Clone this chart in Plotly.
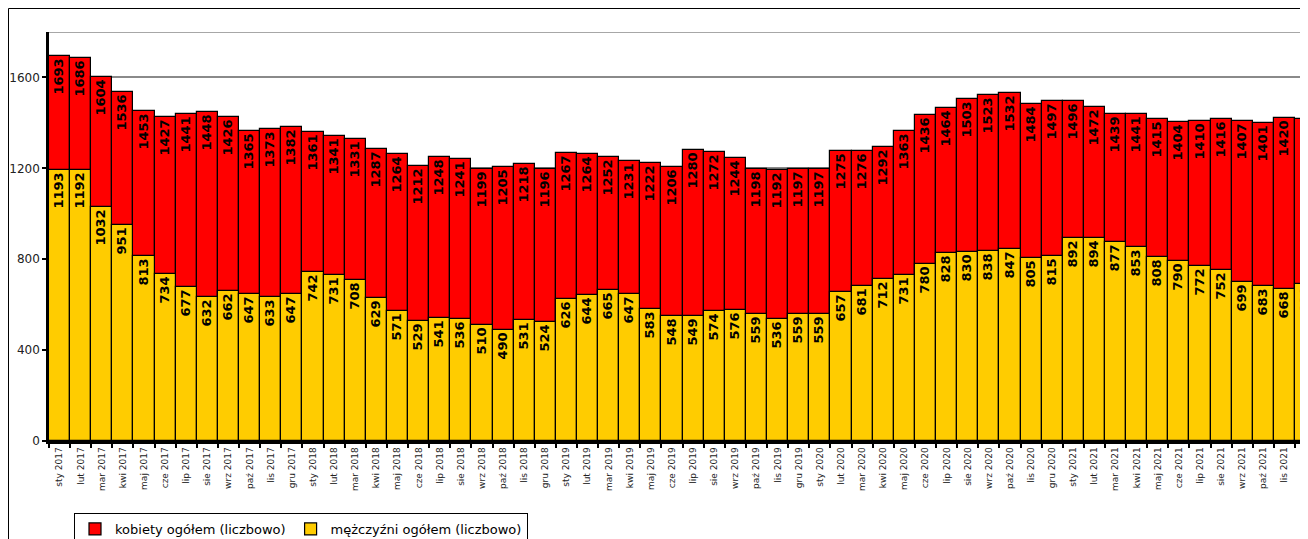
import plotly.graph_objects as go

months = ["sty", "lut", "mar", "kwi", "maj", "cze", "lip", "sie", "wrz", "paź", "lis", "gru"]
years = [2017, 2018, 2019, 2020, 2021]
categories = [f"{m} {y}" for y in years for m in months]

kobiety = [
    1693, 1686, 1604, 1536, 1453, 1427, 1441, 1448, 1426, 1365, 1373, 1382,
    1361, 1341, 1331, 1287, 1264, 1212, 1248, 1241, 1199, 1205, 1218, 1196,
    1267, 1264, 1252, 1231, 1222, 1206, 1280, 1272, 1244, 1198, 1192, 1197,
    1197, 1275, 1276, 1292, 1363, 1436, 1464, 1503, 1523, 1532, 1484, 1497,
    1496, 1472, 1439, 1441, 1415, 1404, 1410, 1416, 1407, 1401, 1420, 1416,
]
mezczyzni = [
    1193, 1192, 1032, 951, 813, 734, 677, 632, 662, 647, 633, 647,
    742, 731, 708, 629, 571, 529, 541, 536, 510, 490, 531, 524,
    626, 644, 665, 647, 583, 548, 549, 574, 576, 559, 536, 559,
    559, 657, 681, 712, 731, 780, 828, 830, 838, 847, 805, 815,
    892, 894, 877, 853, 808, 790, 772, 752, 699, 683, 668, 690,
]

FONT = "DejaVu Sans"
W, H = 1300, 531
L, T = 41, 24
PLOT_BOTTOM = 433
B = H - PLOT_BOTTOM
plot_h = PLOT_BOTTOM - T
plot_w = W - L
CAT_PX = 21.12
x_end = -0.5 + plot_w / CAT_PX

fig = go.Figure()
fig.add_trace(go.Bar(
    x=categories, y=kobiety, name="kobiety ogółem (liczbowo)",
    marker=dict(color="#FF0000", line=dict(color="#000000", width=1.2)),
    text=[str(v) for v in kobiety], textposition="inside", insidetextanchor="end",
    textangle=-90, constraintext="none", cliponaxis=True,
    textfont=dict(family=FONT, size=13, color="#000000", weight="bold"),
))
fig.add_trace(go.Bar(
    x=categories, y=mezczyzni, name="mężczyźni ogółem (liczbowo)",
    marker=dict(color="#FFCC00", line=dict(color="#000000", width=1.2)),
    text=[str(v) for v in mezczyzni], textposition="inside", insidetextanchor="end",
    textangle=-90, constraintext="none", cliponaxis=True,
    textfont=dict(family=FONT, size=13, color="#000000", weight="bold"),
))

fig.update_layout(
    width=W, height=H,
    margin=dict(l=L, r=0, t=T, b=B, pad=0, autoexpand=False),
    barmode="overlay", bargap=0,
    paper_bgcolor="white", plot_bgcolor="white",
    font=dict(family=FONT, color="#222222"),
    showlegend=True,
    legend=dict(
        orientation="h", x=(66 - L) / plot_w, xanchor="left",
        y=-(505 - PLOT_BOTTOM) / plot_h, yanchor="top",
        bordercolor="#000000", borderwidth=1, bgcolor="white",
        font=dict(family=FONT, size=13, color="#000000"),
        itemwidth=30, tracegroupgap=0,
    ),
    xaxis=dict(
        type="category", range=[-0.5, x_end], tickangle=-90, automargin=False,
        tickfont=dict(family=FONT, size=9, color="#222222"),
        ticklabeloverflow="allow",
        showline=True, linecolor="#000000", linewidth=2.5,
        ticks="outside", ticklen=4, tickwidth=2, tickcolor="#000000",
        tickson="boundaries", showgrid=False, fixedrange=True,
    ),
    yaxis=dict(
        range=[0, 1800], tickvals=[0, 400, 800, 1200, 1600], automargin=False,
        tickfont=dict(family=FONT, size=12, color="#222222"),
        showline=True, linecolor="#000000", linewidth=2.5,
        ticks="outside", ticklen=4, tickwidth=2, tickcolor="#000000",
        showgrid=True, gridcolor="#8a8a8a", gridwidth=1.5,
        zeroline=False, fixedrange=True,
    ),
    shapes=[
        dict(type="line", xref="paper", yref="y", x0=0, x1=1, y0=1800, y1=1800,
             line=dict(color="#8a8a8a", width=1.5), layer="below"),
        dict(type="line", xref="paper", yref="paper",
             x0=(0.5 - L) / plot_w, x1=(W - L) / plot_w,
             y0=(PLOT_BOTTOM - 0.5) / plot_h, y1=(PLOT_BOTTOM - 0.5) / plot_h,
             line=dict(color="#000000", width=1)),
        dict(type="line", xref="paper", yref="paper",
             x0=(0.5 - L) / plot_w, x1=(0.5 - L) / plot_w,
             y0=(PLOT_BOTTOM - H) / plot_h, y1=(PLOT_BOTTOM - 0.5) / plot_h,
             line=dict(color="#000000", width=1)),
    ],
)

fig.write_html("out.html")
